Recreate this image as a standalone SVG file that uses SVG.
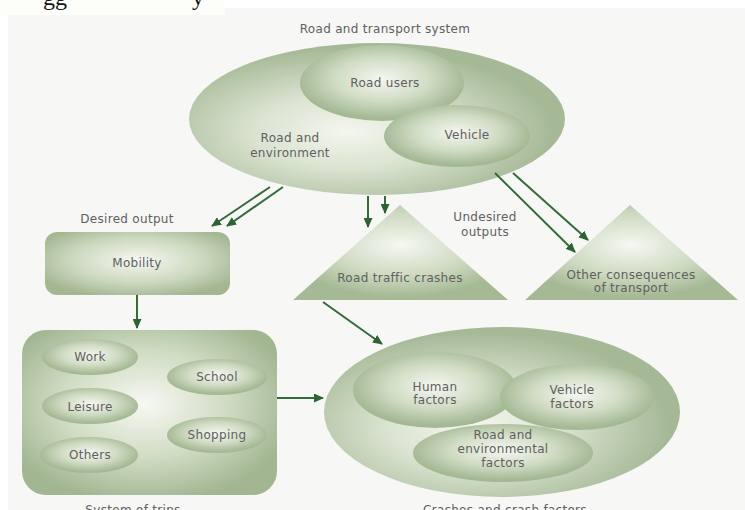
<svg xmlns="http://www.w3.org/2000/svg" width="745" height="510" viewBox="0 0 745 510">
<defs>
<style>
.t{font-family:"DejaVu Sans","Liberation Sans",Arial,sans-serif;font-size:12px;letter-spacing:0.3px;fill:#606060;text-anchor:middle}
.c{stroke:#336b39;stroke-width:2;fill:none;marker-end:url(#ah)}
</style>
<marker id="ah" markerUnits="userSpaceOnUse" markerWidth="10" markerHeight="9" refX="9" refY="4.5" orient="auto">
<path d="M0,0 L10,4.5 L0,9 z" fill="#2c6332"/>
</marker>
<radialGradient id="gOut" cx="42%" cy="58%" r="55%">
<stop offset="0" stop-color="#f4f6ef"/>
<stop offset="0.45" stop-color="#dae3d0"/>
<stop offset="1" stop-color="#a5b996"/>
</radialGradient>
<radialGradient id="gIn" cx="50%" cy="45%" r="52%">
<stop offset="0" stop-color="#f5f7f1"/>
<stop offset="0.55" stop-color="#d0dcc4"/>
<stop offset="1" stop-color="#a3b893"/>
</radialGradient>
<radialGradient id="gRect" cx="50%" cy="45%" r="60%">
<stop offset="0" stop-color="#f6f8f2"/>
<stop offset="0.6" stop-color="#cbd8be"/>
<stop offset="1" stop-color="#a3b792"/>
</radialGradient>
<radialGradient id="gTri" cx="50%" cy="42%" r="55%">
<stop offset="0" stop-color="#f6f8f2"/>
<stop offset="0.6" stop-color="#cdd9c0"/>
<stop offset="1" stop-color="#a5b995"/>
</radialGradient>
<radialGradient id="gTrips" cx="48%" cy="45%" r="60%">
<stop offset="0" stop-color="#f7f8f3"/>
<stop offset="0.55" stop-color="#cfdbc2"/>
<stop offset="1" stop-color="#a1b691"/>
</radialGradient>
</defs>

<rect x="0" y="0" width="745" height="510" fill="#ffffff"/>
<rect x="8" y="8" width="737" height="502" fill="#f7f7f6"/>
<rect x="0" y="0" width="225" height="15" fill="#fdfdf9"/>
<text x="43" y="5" font-family="'Liberation Serif',serif" font-size="24" fill="#111">gg</text>
<text x="192" y="5" font-family="'Liberation Serif',serif" font-size="24" fill="#111">y</text>

<g id="road-transport-system">
<text class="t" x="385" y="33">Road and transport system</text>
<ellipse cx="377" cy="119" rx="188" ry="76" fill="url(#gOut)"/>
<text class="t" x="290" y="142">Road and</text>
<text class="t" x="290" y="157">environment</text>
</g>
<g id="road-users">
<ellipse cx="382" cy="83" rx="82" ry="38" fill="url(#gIn)"/>
<text class="t" x="385" y="87">Road users</text>
</g>
<g id="vehicle">
<ellipse cx="457" cy="136" rx="73" ry="31" fill="url(#gIn)"/>
<text class="t" x="467" y="139">Vehicle</text>
</g>

<g id="mobility">
<text class="t" x="127" y="223">Desired output</text>
<rect x="45" y="232" width="185" height="63" rx="12" fill="url(#gRect)"/>
<text class="t" x="137" y="267">Mobility</text>
</g>

<g id="road-traffic-crashes">
<path d="M400,205 L508,300 L293,300 z" fill="url(#gTri)"/>
<text class="t" x="400" y="282">Road traffic crashes</text>
</g>
<g id="undesired-outputs">
<text class="t" x="485" y="221">Undesired</text>
<text class="t" x="485" y="236">outputs</text>
</g>
<g id="other-consequences">
<path d="M630,205 L738,300 L525,300 z" fill="url(#gTri)"/>
<text class="t" x="631" y="279">Other consequences</text>
<text class="t" x="631" y="292">of transport</text>
</g>

<g id="system-of-trips">
<rect x="22" y="330" width="255" height="165" rx="24" fill="url(#gTrips)"/>
<text class="t" x="133" y="514">System of trips</text>
</g>
<g id="work"><ellipse cx="90" cy="357" rx="48" ry="18" fill="url(#gIn)"/><text class="t" x="90" y="361">Work</text></g>
<g id="school"><ellipse cx="217" cy="377" rx="50" ry="18" fill="url(#gIn)"/><text class="t" x="217" y="381">School</text></g>
<g id="leisure"><ellipse cx="90" cy="406" rx="48" ry="18" fill="url(#gIn)"/><text class="t" x="90" y="411">Leisure</text></g>
<g id="shopping"><ellipse cx="217" cy="435" rx="50" ry="18" fill="url(#gIn)"/><text class="t" x="217" y="439">Shopping</text></g>
<g id="others"><ellipse cx="89" cy="455" rx="49" ry="18" fill="url(#gIn)"/><text class="t" x="90" y="459">Others</text></g>

<g id="crashes-and-crash-factors">
<ellipse cx="502" cy="412" rx="178" ry="85" fill="url(#gOut)"/>
<text class="t" x="505" y="514">Crashes and crash factors</text>
</g>
<g id="human-factors">
<ellipse cx="435" cy="390" rx="82" ry="38" fill="url(#gIn)"/>
<text class="t" x="435" y="391">Human</text>
<text class="t" x="435" y="404">factors</text>
</g>
<g id="vehicle-factors">
<ellipse cx="577" cy="397" rx="77" ry="33" fill="url(#gIn)"/>
<text class="t" x="572" y="394">Vehicle</text>
<text class="t" x="572" y="408">factors</text>
</g>
<g id="road-environmental-factors">
<ellipse cx="503" cy="453" rx="90" ry="29" fill="url(#gIn)"/>
<text class="t" x="503" y="439">Road and</text>
<text class="t" x="503" y="453">environmental</text>
<text class="t" x="503" y="467">factors</text>
</g>

<g id="connectors">
<line class="c" x1="270" y1="187" x2="212" y2="226"/>
<line class="c" x1="283" y1="187" x2="227" y2="226"/>
<line class="c" x1="368" y1="196" x2="368" y2="227"/>
<line class="c" x1="385" y1="196" x2="385" y2="213"/>
<line class="c" x1="495" y1="173" x2="575" y2="252"/>
<line class="c" x1="513" y1="173" x2="588" y2="240"/>
<line class="c" x1="137" y1="295" x2="137" y2="328"/>
<line class="c" x1="323" y1="302" x2="382" y2="344"/>
<line class="c" x1="277" y1="398" x2="323" y2="398"/>
</g>
</svg>
